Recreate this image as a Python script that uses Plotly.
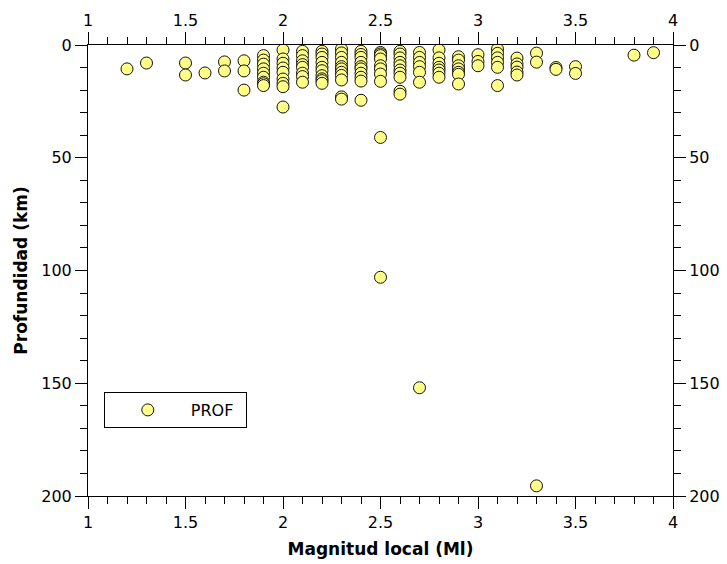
import plotly.graph_objects as go

# Magnitude local (Ml) columns and their depths (km)
mag_levels = [1.2, 1.3, 1.5, 1.6, 1.7, 1.8, 1.9, 2.0, 2.1, 2.2, 2.3, 2.4, 2.5, 2.6,
              2.7, 2.8, 2.9, 3.0, 3.1, 3.2, 3.3, 3.4, 3.5, 3.8, 3.9]
depths_by_mag = [
    [10.6],
    [8.0],
    [8.0, 13.3],
    [12.4],
    [7.5, 11.5],
    [7.0, 11.5, 20.0],
    [4.7, 6.7, 8.5, 10.6, 12.5, 14.3, 16.5, 17.2, 18.0],
    [2.2, 6.2, 8.1, 10.2, 12.1, 15.1, 17.0, 18.5, 27.5],
    [2.8, 4.7, 7.0, 8.7, 9.9, 12.5, 14.0, 16.5],
    [2.8, 4.0, 5.5, 7.7, 9.9, 11.4, 13.6, 15.0, 15.8, 17.0],
    [1.8, 3.5, 5.5, 7.7, 9.6, 10.6, 12.1, 13.5, 15.5, 23.0, 24.0],
    [2.8, 4.2, 5.5, 7.7, 9.6, 10.6, 12.5, 14.3, 16.0, 24.5],
    [3.3, 4.0, 4.7, 6.2, 9.2, 10.6, 12.9, 16.1, 41.0, 103.0],
    [2.8, 4.0, 5.7, 7.7, 9.2, 11.1, 12.5, 14.3, 20.5, 21.8],
    [3.3, 5.5, 7.7, 9.6, 12.1, 16.5, 152.0],
    [2.2, 5.7, 8.1, 9.9, 11.1, 12.5, 14.3],
    [5.2, 6.7, 9.2, 10.6, 12.1, 13.0, 17.3],
    [4.3, 7.3, 9.2],
    [1.8, 3.7, 5.7, 7.7, 9.9, 18.0],
    [5.8, 8.4, 9.8, 12.0, 13.3],
    [3.6, 7.6, 195.5],
    [10.0, 10.8],
    [9.6, 12.6],
    [4.5],
    [3.4],
]

x_vals = [m for m, ds in zip(mag_levels, depths_by_mag) for _ in ds]
y_vals = [d for ds in depths_by_mag for d in ds]

x_ticks = [1, 1.5, 2, 2.5, 3, 3.5, 4]
x_ticklabels = ["1", "1.5", "2", "2.5", "3", "3.5", "4"]
y_ticks = [0, 50, 100, 150, 200]

FONT = "DejaVu Sans"
TICK_SIZE = 16
TITLE_SIZE = 17

fig = go.Figure()
fig.add_trace(go.Scatter(
    x=x_vals, y=y_vals, mode="markers", name="PROF",
    marker=dict(size=12, color="#ffff88", line=dict(color="#111111", width=1)),
))

common_x = dict(range=[1, 4], tickvals=x_ticks, ticktext=x_ticklabels,
                ticks="outside", ticklen=12, tickwidth=1, tickcolor="black",
                showline=True, linecolor="black", linewidth=1, showgrid=False,
                zeroline=False, automargin=False,
                tickfont=dict(family=FONT, size=TICK_SIZE, color="black"),
                minor=dict(dtick=0.1, ticks="outside", ticklen=7, tickcolor="black",
                           showgrid=False))
common_y = dict(range=[200, 0], tickvals=y_ticks,
                ticks="outside", ticklen=12, tickwidth=1, tickcolor="black",
                showline=True, linecolor="black", linewidth=1, showgrid=False,
                zeroline=False, automargin=False,
                tickfont=dict(family=FONT, size=TICK_SIZE, color="black"),
                minor=dict(dtick=10, ticks="outside", ticklen=7, tickcolor="black",
                           showgrid=False))

fig.update_layout(
    width=727, height=564,
    margin=dict(l=88, r=54, t=45, b=68),
    paper_bgcolor="white", plot_bgcolor="white",
    font=dict(family=FONT, size=TICK_SIZE, color="black"),
    xaxis=dict(**common_x,
               title=dict(text="Magnitud local (Ml)", standoff=11,
                          font=dict(family=FONT, size=TITLE_SIZE, weight="bold"))),
    yaxis=dict(**common_y,
               title=dict(text="Profundidad (km)", standoff=9,
                          font=dict(family=FONT, size=TITLE_SIZE, weight="bold"))),
    xaxis2=dict(**common_x, overlaying="x", side="top", matches="x"),
    yaxis2=dict(**common_y, overlaying="y", side="right", matches="y"),
    showlegend=True,
    legend=dict(x=0.027, y=0.2306, xanchor="left", yanchor="top",
                orientation="h",
                bordercolor="black", borderwidth=1, bgcolor="white",
                itemwidth=76, entrywidth=50,
                font=dict(family=FONT, size=TICK_SIZE, color="black")),
)

# invisible trace to activate the mirrored axes with labels
fig.add_trace(go.Scatter(x=[None], y=[None], xaxis="x2", yaxis="y2",
                         showlegend=False, hoverinfo="skip"))

fig.write_html("out.html")
